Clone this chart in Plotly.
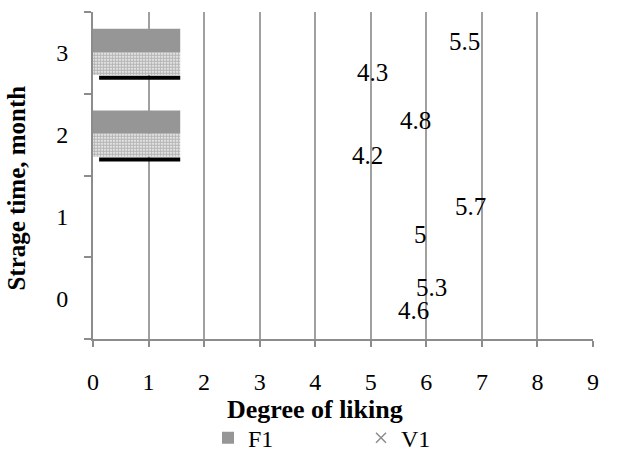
import plotly.graph_objects as go

categories = ["0", "1", "2", "3"]
f1_values = [5.3, 5.7, 4.8, 5.5]
v1_values = [4.6, 5.0, 4.2, 4.3]
x_ticks = [0, 1, 2, 3, 4, 5, 6, 7, 8, 9]

# stray swatch bars drawn at the top two categories
swatch_cats = ["2", "3"]
swatch_len = [1.57, 1.57]

# label placement styles (px)
f1_xshift = [27, 43, 38, 48]
f1_yshift = [11, 10, 14, 11]
v1_xshift = [47, 41, 24, 23]
v1_yshift = [-12, -18, -21, -20]

FONT = "Liberation Serif"
GRID = "#a0a0a0"
AXIS = "#8c8c8c"

fig = go.Figure()

fig.add_trace(go.Bar(
    y=swatch_cats, x=swatch_len, orientation="h", name="F1",
    marker=dict(color="#969696", line=dict(width=0)),
    offset=0.01, width=0.285, showlegend=True,
))
fig.add_trace(go.Bar(
    y=swatch_cats, x=swatch_len, orientation="h", name="pattern",
    marker=dict(color="white", line=dict(width=0),
                pattern=dict(shape=".", size=3, solidity=0.75,
                             fgcolor="#6e6e6e", bgcolor="white")),
    offset=-0.27, width=0.28, showlegend=False,
))
fig.add_trace(go.Bar(
    y=swatch_cats, x=[v - 0.11 for v in swatch_len], base=0.11, orientation="h",
    name="line", marker=dict(color="black", line=dict(width=0)),
    offset=-0.33, width=0.05, showlegend=False,
))
fig.add_trace(go.Scatter(
    x=[None], y=[None], mode="markers", name="V1",
    marker=dict(symbol="x-thin", size=10, line=dict(width=1.5, color="#8c8c8c"),
                color="#8c8c8c"),
))

def fmt(v):
    return f"{v:g}"

for cat, val, xs, ys in zip(categories, f1_values, f1_xshift, f1_yshift):
    fig.add_annotation(x=val, y=cat, xref="x", yref="y", text=fmt(val),
                       showarrow=False, xanchor="left", yanchor="middle",
                       xshift=xs, yshift=ys, font=dict(size=25, color="black", family=FONT))
for cat, val, xs, ys in zip(categories, v1_values, v1_xshift, v1_yshift):
    fig.add_annotation(x=val, y=cat, xref="x", yref="y", text=fmt(val),
                       showarrow=False, xanchor="left", yanchor="middle",
                       xshift=xs, yshift=ys, font=dict(size=25, color="black", family=FONT))

# axis titles
fig.add_annotation(x=0.444, y=-0.215, xref="paper", yref="paper", text="<b>Degree of liking</b>",
                   showarrow=False, xanchor="center", yanchor="middle",
                   font=dict(size=26, color="black", family=FONT))
fig.add_annotation(x=-0.152, y=0.46, xref="paper", yref="paper", text="<b>Strage time, month</b>",
                   showarrow=False, xanchor="center", yanchor="middle", textangle=-90,
                   font=dict(size=25, color="black", family=FONT))

fig.update_layout(
    width=621, height=454,
    margin=dict(l=93, r=28, t=12, b=115, autoexpand=False),
    paper_bgcolor="white", plot_bgcolor="white",
    font=dict(family=FONT, size=24, color="black"),
    barmode="overlay",
    showlegend=True,
    legend=dict(orientation="h", x=0.23, y=-0.303, xanchor="left", yanchor="middle",
                font=dict(size=24, family=FONT, color="black"),
                entrywidth=108, bgcolor="rgba(0,0,0,0)", itemclick=False),
    xaxis=dict(range=[0, 9], tickvals=x_ticks, showgrid=True, gridcolor=GRID, gridwidth=2,
               showline=True, linecolor=AXIS, linewidth=2, ticks="outside", ticklen=6,
               tickcolor=AXIS, tickwidth=2, zeroline=False, ticklabelstandoff=14,
               automargin=False,
               tickfont=dict(size=24, family=FONT, color="black")),
    yaxis=dict(type="category", categoryorder="array", categoryarray=categories,
               range=[-0.5, 3.5], showgrid=False, showline=True, linecolor=AXIS, linewidth=2,
               ticks="outside", ticklen=7, tickcolor=AXIS, tickwidth=2, tickson="boundaries",
               ticklabelstandoff=18, automargin=False,
               tickfont=dict(size=24, family=FONT, color="black")),
)

fig.write_html("out.html", config={"displayModeBar": False},
               post_script="document.body.style.margin='0';document.body.style.overflow='hidden';")
